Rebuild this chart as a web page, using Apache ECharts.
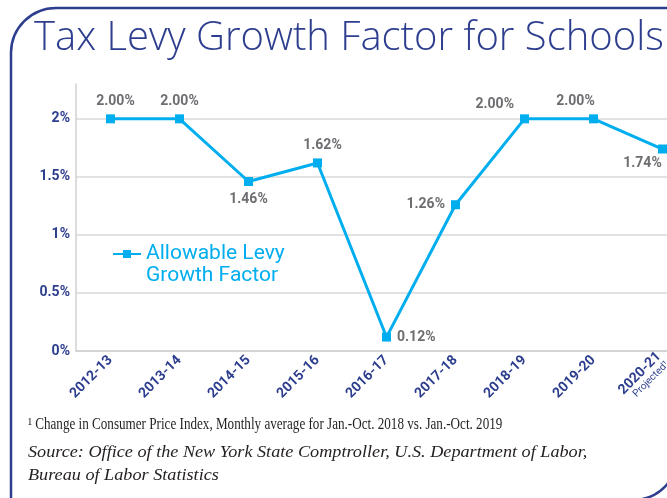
<!DOCTYPE html>
<html>
<head>
<meta charset="utf-8">
<script src="https://cdn.jsdelivr.net/npm/echarts@6/dist/echarts.min.js"></script>
<style>
  html, body { margin: 0; padding: 0; background: #fff; }
  #main { width: 667px; height: 498px; }
</style>
</head>
<body>
<div id="main"></div>
<script>
var years = ['2012-13', '2013-14', '2014-15', '2015-16', '2016-17', '2017-18', '2018-19', '2019-20', '2020-21'];
var levy = [2.00, 2.00, 1.46, 1.62, 0.12, 1.26, 2.00, 2.00, 1.74];
var yTicks = [0, 0.5, 1, 1.5, 2];

var navy = '#2d3e8e';
var cyan = '#00aeef';
var grey = '#6d6e71';
var narrow = '"Liberation Sans Narrow", "Roboto", sans-serif';

// where each value label sits around its point
var labelPos = [
    { position: 'top', offset: [5, 0] },
    { position: 'top', offset: [0, 0] },
    { position: 'bottom', offset: [0, 0] },
    { position: 'top', offset: [5, 0] },
    { position: 'right', offset: [0, 0] },
    { position: 'left', offset: [0, 0] },
    { position: 'left', offset: [0, -14] },
    { position: 'top', offset: [-18, 0] },
    { position: 'bottom', offset: [-20, -3] }
];

function getData() {
    return levy.map(function (v, i) {
        return {
            value: v,
            label: { position: labelPos[i].position, offset: labelPos[i].offset }
        };
    });
}

var myChart = echarts.init(document.getElementById('main'));

var option = {
    animation: false,
    title: {
        text: 'Tax Levy Growth Factor for Schools',
        left: 29,
        top: 14,
        textStyle: {
            color: navy,
            fontFamily: '"Open Sans", sans-serif',
            fontWeight: 300,
            fontSize: 40
        }
    },
    legend: {
        left: 107,
        top: 216,
        itemWidth: 28,
        itemHeight: 10,
        data: ['Allowable Levy Growth Factor'],
        // empty first line keeps the icon level with "Allowable Levy"
        formatter: function () { return ' \nAllowable Levy\nGrowth Factor'; },
        textStyle: {
            color: cyan,
            fontFamily: narrow,
            fontSize: 21,
            lineHeight: 22
        }
    },
    grid: {
        left: 76,
        top: 84,
        width: 621,
        height: 267,
        outerBoundsMode: 'none',
        containLabel: false
    },
    xAxis: {
        type: 'category',
        data: years,
        boundaryGap: true,
        axisLine: { lineStyle: { color: '#d0d0d0', width: 1.5 } },
        axisTick: { alignWithLabel: true, length: 6, lineStyle: { color: '#d0d0d0', width: 1.5 } },
        axisLabel: {
            rotate: 45,
            margin: 7,
            color: navy,
            fontFamily: narrow,
            fontWeight: 'bold',
            fontSize: 14,
            formatter: function (v) {
                return v === '2020-21' ? v + '\n{p|Projected¹}' : v;
            },
            rich: {
                p: { color: navy, fontFamily: narrow, fontSize: 10, fontWeight: 'normal' }
            }
        }
    },
    yAxis: {
        type: 'value',
        min: 0,
        max: 2.3,
        interval: 0.5,
        axisLine: { show: true, lineStyle: { color: '#d0d0d0', width: 1.5 } },
        axisTick: { show: false },
        splitLine: { showMaxLine: false, lineStyle: { color: '#d8d8d8', width: 1.5 } },
        axisLabel: {
            showMaxLabel: false,
            margin: 6,
            color: navy,
            fontFamily: narrow,
            fontWeight: 'bold',
            fontSize: 14,
            formatter: function (v) {
                return yTicks.indexOf(v) >= 0 ? v + '%' : '';
            }
        }
    },
    series: [{
        name: 'Allowable Levy Growth Factor',
        type: 'line',
        data: getData(),
        symbol: 'rect',
        symbolSize: 9,
        itemStyle: { color: cyan },
        lineStyle: { color: cyan, width: 3 },
        label: {
            show: true,
            color: grey,
            fontFamily: narrow,
            fontWeight: 'bold',
            fontSize: 14,
            distance: 6,
            formatter: function (p) { return p.value.toFixed(2) + '%'; }
        }
    }],
    graphic: [
        {
            type: 'rect',
            shape: { x: 11, y: 8, width: 667, height: 492, r: [45, 0, 45, 0] },
            style: { fill: 'none', stroke: navy, lineWidth: 2.5 },
            silent: true
        },
        {
            type: 'text',
            x: 28,
            y: 417,
            scaleX: 0.82,
            style: {
                text: '¹ Change in Consumer Price Index, Monthly average for Jan.-Oct. 2018 vs. Jan.-Oct. 2019',
                fill: '#231f20',
                font: '16px "Liberation Serif", serif'
            }
        },
        {
            type: 'text',
            x: 28,
            y: 441,
            scaleX: 1.07,
            style: {
                text: 'Source: Office of the New York State Comptroller, U.S. Department of Labor,\nBureau of Labor Statistics',
                fill: '#231f20',
                lineHeight: 23,
                font: 'italic 17px "Liberation Serif", serif'
            }
        }
    ]
};

myChart.setOption(option);
</script>
</body>
</html>
